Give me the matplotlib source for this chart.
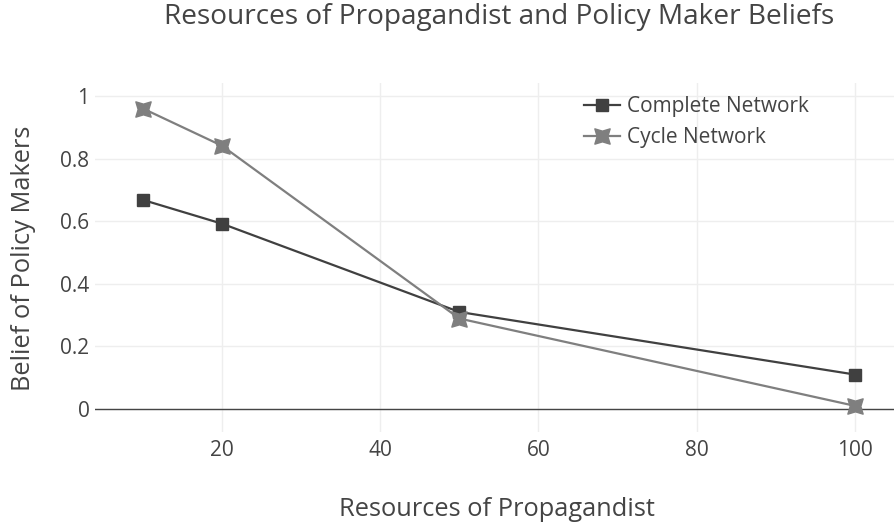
import numpy as np
import matplotlib.pyplot as plt
from matplotlib.path import Path

resources = [10, 20, 50, 100]
complete_net = [0.668, 0.592, 0.310, 0.110]
cycle_net = [0.960, 0.841, 0.289, 0.010]

x_ticks = [20, 40, 60, 80, 100]
y_ticks = [0, 0.2, 0.4, 0.6, 0.8, 1]
y_tick_labels = ['0', '0.2', '0.4', '0.6', '0.8', '1']

plt.rcParams['font.family'] = ['Open Sans', 'DejaVu Sans']
text_col = '#444444'

# four pointed star, like plotly's star-square
star_sq = Path([(-1, -1), (0, -0.7), (1, -1), (0.7, 0), (1, 1),
                (0, 0.7), (-1, 1), (-0.7, 0), (-1, -1)],
               [Path.MOVETO] + [Path.LINETO] * 7 + [Path.CLOSEPOLY])

fig = plt.figure(figsize=(8.94, 5.29), dpi=100)
ax = fig.add_axes([95 / 894, 97 / 529, 799 / 894, 349 / 529])

ax.plot(resources, complete_net, color='#404040', lw=1.6, marker='s',
        ms=9, label='Complete Network', zorder=3)
ax.plot(resources, cycle_net, color='#7f7f7f', lw=1.6, marker=star_sq,
        ms=11, label='Cycle Network', zorder=3)

ax.set_xlim(3.95, 104.93)
ax.set_ylim(-0.0735, 1.0415)
ax.set_xticks(x_ticks)
ax.set_yticks(y_ticks)
ax.set_yticklabels(y_tick_labels)
ax.tick_params(length=0, labelsize=15, labelcolor=text_col)
ax.tick_params(axis='x', pad=6)
ax.tick_params(axis='y', pad=4)
ax.grid(color='#eeeeee', lw=1)
ax.axhline(0, color='#444444', lw=1, zorder=2)
for s in ax.spines.values():
    s.set_visible(False)

fig.text(497 / 894, 1 - 510 / 529, 'Resources of Propagandist', ha='center',
         va='center', fontsize=18.3, color=text_col)
fig.text(24 / 894, 1 - 258 / 529, 'Belief of Policy Makers', ha='center',
         va='center', rotation=90, fontsize=18.3, color=text_col)
fig.text(499 / 894, 1 - 17 / 529, 'Resources of Propagandist and Policy Maker Beliefs',
         ha='center', va='center', fontsize=20.2, color=text_col)

leg = ax.legend(loc='upper left', bbox_to_anchor=(0.589, 1.017), frameon=False,
                fontsize=15, labelcolor=text_col, handlelength=1.7,
                handletextpad=0.34, labelspacing=0.5)

fig.savefig('out.png', dpi=100)
